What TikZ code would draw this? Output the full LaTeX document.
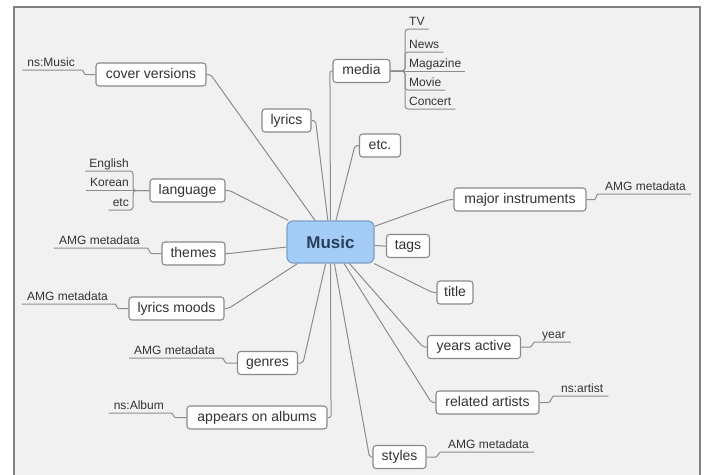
\documentclass[tikz,border=0pt]{standalone}
\usepackage{fontspec}
\setmainfont{Liberation Sans}
\definecolor{bg}{HTML}{F1F1F1}
\definecolor{framec}{HTML}{808080}
\definecolor{boxc}{HTML}{8A8A8A}
\definecolor{linec}{HTML}{8C8C8C}
\definecolor{txt}{HTML}{333333}
\definecolor{musicfill}{HTML}{A3CDF7}
\definecolor{musicdraw}{HTML}{7C9FC6}
\definecolor{musictext}{HTML}{2B3E57}
\begin{document}
\begin{tikzpicture}[x=1pt,y=-1pt,
  box/.style={draw=boxc, line width=1.1pt, rounded corners=3pt, fill=white,
    minimum height=23pt, inner xsep=0pt, inner ysep=0pt,
    text height=10.5pt, text depth=3pt,
    font=\fontsize{14}{16}\selectfont, text=txt},
  musicbox/.style={draw=musicdraw, line width=1.2pt, rounded corners=6pt, fill=musicfill,
    minimum width=87pt, minimum height=42pt, inner sep=0pt,
    font=\bfseries\fontsize{17}{20}\selectfont, text=musictext},
  lbl/.style={inner xsep=5pt, inner ysep=1pt, text height=9pt, text depth=2.5pt,
    font=\fontsize{12}{14}\selectfont, text=txt},
  conn/.style={draw=linec, line width=1pt, rounded corners=2pt},
]
\useasboundingbox (0,0) rectangle (717,474);
\clip (0,0) rectangle (717,474);
\fill[white] (0,0) rectangle (717,474);
\draw[draw=framec, line width=1.3pt, fill=bg] (14,7) rectangle (700,490);

% central node
\node[musicbox] (music) at (330.5,242) {Music};

% first-level nodes
\node[box, minimum width=110pt] (cover) at (151,74.5) {cover versions};
\node[box, minimum width=49pt] (lyrics) at (286.5,120.5) {lyrics};
\node[box, minimum width=57pt] (media) at (361.5,71) {media};
\node[box, minimum width=41pt] (etc) at (380,145.5) {etc.};
\node[box, minimum width=75pt] (lang) at (187.5,190.5) {language};
\node[box, minimum width=63pt] (themes) at (193.5,253.5) {themes};
\node[box, minimum width=95pt] (moods) at (176.5,308.5) {lyrics moods};
\node[box, minimum width=60pt] (genres) at (267.5,363) {genres};
\node[box, minimum width=140pt] (albums) at (257,417.5) {appears on albums};
\node[box, minimum width=132pt] (instr) at (520,199.5) {major instruments};
\node[box, minimum width=43pt] (tags) at (408,246) {tags};
\node[box, minimum width=36pt] (title) at (455,292.5) {title};
\node[box, minimum width=93pt] (years) at (474,347) {years active};
\node[box, minimum width=103pt] (related) at (487.5,402.5) {related artists};
\node[box, minimum width=53pt] (styles) at (399.5,457) {styles};

% leaf labels
\node[lbl, anchor=south east] (nsmusic) at (80,70) {ns:Music};
\node[lbl, anchor=south east] (amgthemes) at (145,248) {AMG metadata};
\node[lbl, anchor=south east] (amgmoods) at (113,304) {AMG metadata};
\node[lbl, anchor=south east] (amggenres) at (220,358) {AMG metadata};
\node[lbl, anchor=south east] (nsalbum) at (169,413) {ns:Album};
\node[lbl, anchor=south west] (amginstr) at (600,194) {AMG metadata};
\node[lbl, anchor=south west] (year) at (537,342) {year};
\node[lbl, anchor=south west] (nsartist) at (556,396) {ns:artist};
\node[lbl, anchor=south west] (amgstyles) at (443,452) {AMG metadata};

% media children
\coordinate (mb) at (405,71);
\node[lbl, anchor=south west, inner xsep=4pt] (tv) at (405,29) {TV};
\node[lbl, anchor=south west, inner xsep=4pt] (news) at (405,52) {News};
\node[lbl, anchor=south west, inner xsep=4pt] (mag) at (405,71) {Magazine};
\node[lbl, anchor=south west, inner xsep=4pt] (movie) at (405,90) {Movie};
\node[lbl, anchor=south west, inner xsep=4pt] (concert) at (405,109) {Concert};

% language children
\coordinate (lb) at (133,190.5);
\node[lbl, anchor=south east, inner xsep=4pt] (english) at (133,171) {English};
\node[lbl, anchor=south east, inner xsep=4pt] (korean) at (133,190.5) {Korean};
\node[lbl, anchor=south east, inner xsep=4pt] (etcl) at (133,210) {etc};

% connectors from Music
\draw[conn] (music) -- ([xshift=4pt]cover.east) -- (cover.east);
\draw[conn] (music) -- ([xshift=4pt]lyrics.east) -- (lyrics.east);
\draw[conn] (music) -- ([xshift=-2.5pt]media.west) -- (media.west);
\draw[conn] (music) -- ([xshift=-4pt]etc.west) -- (etc.west);
\draw[conn] (music) -- ([xshift=4pt]lang.east) -- (lang.east);
\draw[conn] (music) -- ([xshift=4pt]themes.east) -- (themes.east);
\draw[conn] (music) -- ([xshift=4pt]moods.east) -- (moods.east);
\draw[conn] (music) -- ([xshift=5pt]genres.east) -- (genres.east);
\draw[conn] (music) -- ([xshift=3.5pt]albums.east) -- (albums.east);
\draw[conn] (music) -- ([xshift=-4pt]instr.west) -- (instr.west);
\draw[conn] (music) -- ([xshift=-4pt]tags.west) -- (tags.west);
\draw[conn] (music) -- ([xshift=-4pt]title.west) -- (title.west);
\draw[conn] (music) -- ([xshift=-4pt]years.west) -- (years.west);
\draw[conn] (music) -- ([xshift=-4pt]related.west) -- (related.west);
\draw[conn] (music) -- ([xshift=-3pt]styles.west) -- (styles.west);

% connectors to leaf labels
\draw[conn] (cover.west) -- ++(-8,0) to[out=180,in=0] (nsmusic.south east) -- (nsmusic.south west);
\draw[conn] (themes.west) -- ++(-8,0) to[out=180,in=0] (amgthemes.south east) -- (amgthemes.south west);
\draw[conn] (moods.west) -- ++(-8,0) to[out=180,in=0] (amgmoods.south east) -- (amgmoods.south west);
\draw[conn] (genres.west) -- ++(-8.5,0) to[out=180,in=0] (amggenres.south east) -- (amggenres.south west);
\draw[conn] (albums.west) -- ++(-9,0) to[out=180,in=0] (nsalbum.south east) -- (nsalbum.south west);
\draw[conn] (instr.east) -- ++(6,0) to[out=0,in=180] (amginstr.south west) -- (amginstr.south east);
\draw[conn] (years.east) -- ++(7,0) to[out=0,in=180] (year.south west) -- (year.south east);
\draw[conn] (related.east) -- ++(7,0) to[out=0,in=180] (nsartist.south west) -- (nsartist.south east);
\draw[conn] (styles.east) -- ++(7,0) to[out=0,in=180] (amgstyles.south west) -- (amgstyles.south east);

% media bracket
\draw[conn, rounded corners=3pt] (media.east) -- (mb) |- (tv.south east);
\draw[conn, rounded corners=3pt] (media.east) -- (mb) |- (news.south east);
\draw[conn] (media.east) -- (mag.south east);
\draw[conn, rounded corners=3pt] (media.east) -- (mb) |- (movie.south east);
\draw[conn, rounded corners=3pt] (media.east) -- (mb) |- (concert.south east);

% language bracket
\draw[conn, rounded corners=3pt] (lang.west) -- (lb) |- (english.south west);
\draw[conn] (lang.west) -- (korean.south west);
\draw[conn, rounded corners=3pt] (lang.west) -- (lb) |- (etcl.south west);
\end{tikzpicture}
\end{document}
